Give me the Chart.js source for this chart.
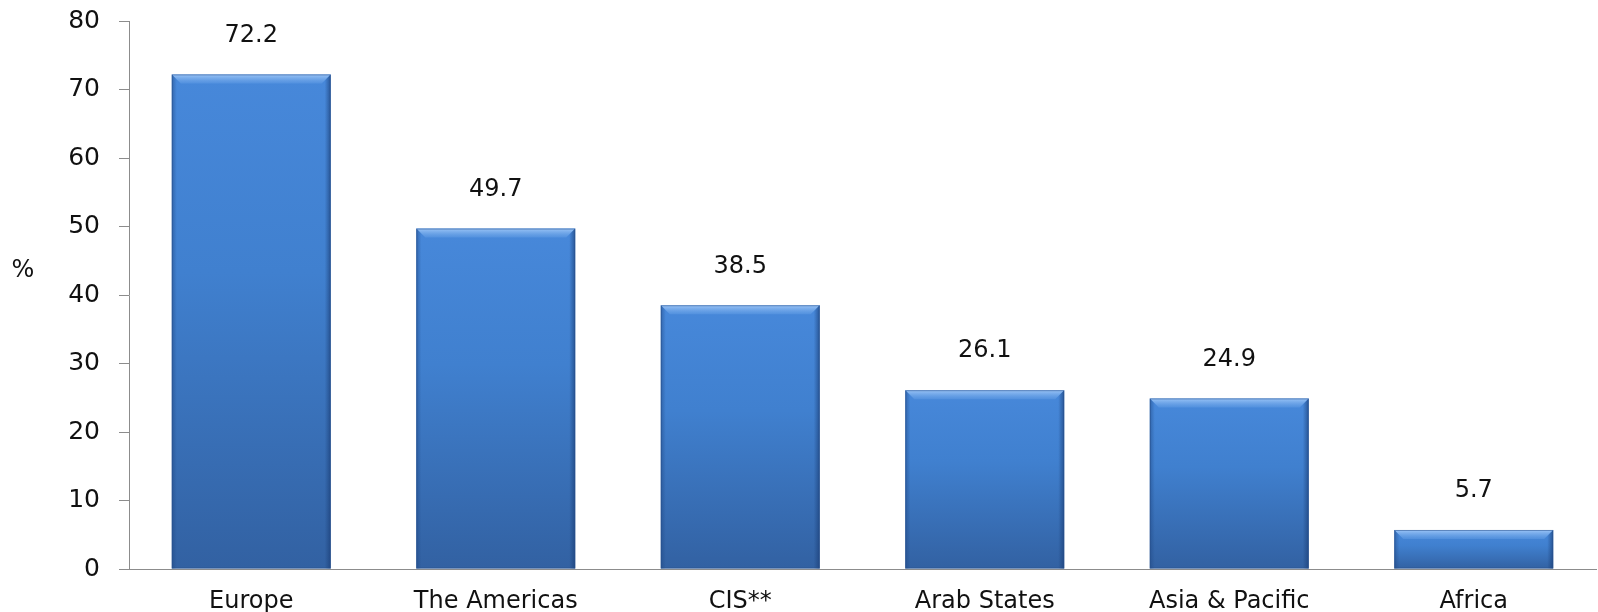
<!DOCTYPE html>
<html>
<head>
<meta charset="utf-8">
<script src="https://cdn.jsdelivr.net/npm/chart.js@4/dist/chart.umd.min.js"></script>
<style>
  html, body { margin: 0; padding: 0; background: #ffffff; }
  #wrap { width: 1598px; height: 612px; position: relative; }
</style>
</head>
<body>
<div id="wrap"><canvas id="chart" width="1598" height="612"></canvas></div>
<script>
// Regions and their percentages
const regions = ['Europe', 'The Americas', 'CIS**', 'Arab States', 'Asia & Pacific', 'Africa'];
const percentages = [72.2, 49.7, 38.5, 26.1, 24.9, 5.7];
const yTicks = [0, 10, 20, 30, 40, 50, 60, 70, 80];
const yUnit = '%';

const FONT = '"DejaVu Sans", Verdana, sans-serif';
const TEXT = '#111111';
const AXIS = '#8c8c8c';

// Vertical gradient for each bar, spanning from its value down to zero
function barFill(ctx) {
  const chart = ctx.chart;
  const ys = chart.scales && chart.scales.y;
  if (!ys || ctx.parsed === undefined) return '#3f7bc7';
  const top = ys.getPixelForValue(ctx.parsed.y);
  const bottom = ys.getPixelForValue(0);
  if (!isFinite(top) || !isFinite(bottom) || bottom - top < 1) return '#3f7bc7';
  const g = chart.ctx.createLinearGradient(0, top, 0, bottom);
  g.addColorStop(0, '#4788da');
  g.addColorStop(0.4, '#4080cf');
  g.addColorStop(1, '#3261a2');
  return g;
}

// Bevelled edges drawn on top of each bar
const bevel = {
  id: 'bevel',
  afterDatasetsDraw(chart) {
    const c = chart.ctx;
    const meta = chart.getDatasetMeta(0);
    meta.data.forEach(bar => {
      const { x, y, width, base } = bar.getProps(['x', 'y', 'width', 'base'], true);
      const l = x - width / 2, r = x + width / 2;
      const d = 9;
      c.save();
      // top highlight
      let g = c.createLinearGradient(0, y, 0, y + d);
      g.addColorStop(0, 'rgba(160,200,248,0.95)');
      g.addColorStop(1, 'rgba(95,155,228,0.5)');
      c.fillStyle = g;
      c.beginPath();
      c.moveTo(l, y); c.lineTo(r, y); c.lineTo(r - d, y + d); c.lineTo(l + d, y + d); c.closePath();
      c.fill();
      // left edge
      g = c.createLinearGradient(l, 0, l + 5, 0);
      g.addColorStop(0, 'rgba(30,70,130,0.5)');
      g.addColorStop(1, 'rgba(30,70,130,0)');
      c.fillStyle = g;
      c.beginPath();
      c.moveTo(l, y); c.lineTo(l + d, y + d); c.lineTo(l + 5, base); c.lineTo(l, base); c.closePath();
      c.fill();
      // right edge
      g = c.createLinearGradient(r, 0, r - 6, 0);
      g.addColorStop(0, 'rgba(25,60,115,0.65)');
      g.addColorStop(1, 'rgba(25,60,115,0)');
      c.fillStyle = g;
      c.beginPath();
      c.moveTo(r, y); c.lineTo(r - d, y + d); c.lineTo(r - 6, base); c.lineTo(r, base); c.closePath();
      c.fill();
      // outline
      c.strokeStyle = 'rgba(40,80,140,0.55)';
      c.lineWidth = 1;
      c.strokeRect(l + 0.5, y + 0.5, width - 1, base - y - 1);
      c.restore();
    });
  }
};

// Value labels above bars and the unit label beside the value axis
const labels = {
  id: 'labels',
  afterDraw(chart) {
    const c = chart.ctx;
    const meta = chart.getDatasetMeta(0);
    c.save();
    c.fillStyle = TEXT;
    c.font = '24px ' + FONT;
    c.textAlign = 'center';
    c.textBaseline = 'middle';
    meta.data.forEach((bar, i) => {
      c.fillText(percentages[i].toFixed(1), bar.x, bar.y - 39);
    });
    c.font = '24px ' + FONT;
    c.fillText(yUnit, 23, 271);
    c.restore();
  }
};

new Chart(document.getElementById('chart'), {
  type: 'bar',
  data: {
    labels: regions,
    datasets: [{
      data: percentages,
      backgroundColor: barFill,
      borderWidth: 0,
      categoryPercentage: 0.65,
      barPercentage: 1
    }]
  },
  options: {
    responsive: false,
    animation: false,
    events: [],
    layout: { padding: { top: 21, right: 2, left: 0, bottom: 0 } },
    plugins: { legend: { display: false }, tooltip: { enabled: false } },
    scales: {
      x: {
        grid: { display: false, drawTicks: false },
        border: { display: true, color: AXIS, width: 1 },
        ticks: { color: TEXT, font: { family: FONT, size: 24 }, padding: 18, maxRotation: 0 },
        afterFit(s) { s.height = 43; }
      },
      y: {
        min: 0, max: 80,
        afterBuildTicks(s) { s.ticks = yTicks.map(v => ({ value: v })); },
        grid: { drawOnChartArea: false, drawTicks: true, tickLength: 10, color: AXIS },
        border: { display: true, color: AXIS, width: 1 },
        ticks: { color: TEXT, font: { family: FONT, size: 25 }, padding: 19 },
        afterFit(s) { s.width = 129; s.paddingTop = 0; s.paddingBottom = 0; }
      }
    }
  },
  plugins: [bevel, labels]
});
</script>
</body>
</html>
